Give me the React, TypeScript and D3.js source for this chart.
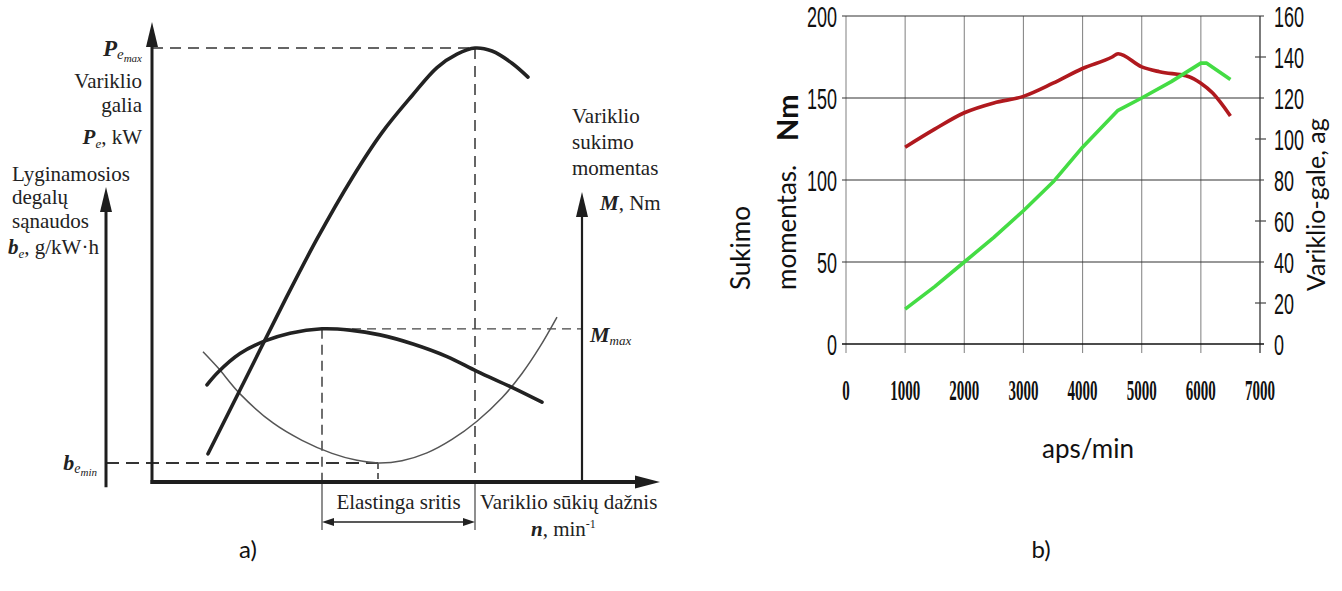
import React from "react";
import * as d3 from "d3";

// ---------- Panel a) schematic data (relative units) ----------
const powerN = [11.2, 18.9, 26.6, 33, 40, 46, 52, 57, 61, 64.6, 68, 72, 75.2];
const powerP = [6.5, 24.2, 41.9, 56, 70, 80.5, 89, 95.5, 98.6, 100, 99.3, 96.5, 93.3];
const torqueN = [11, 13.2, 17.6, 22.6, 27.6, 34, 39.6, 45.6, 52.2, 59, 65, 72.2, 78];
const torqueM = [22.4, 25.3, 29.6, 32.5, 34.3, 35.3, 35, 33.9, 31.8, 28.9, 25.5, 21.7, 18.4];
const fuelN = [10.2, 13.2, 17.6, 24.2, 30, 36, 41, 45.2, 50, 55, 60, 65, 70, 74, 77.5, 81];
const fuelB = [30, 26.3, 20.3, 13.6, 9.6, 6.6, 5, 4.4, 4.9, 6.7, 9.8, 14, 19.4, 25, 31, 38];
// key values
const nMmax = 34;
const nPmax = 64.6;
const nBmin = 45.2;
const Mmax = 35.3;
const Pmax = 100;
const Bmin = 4.4;

// ---------- Panel b) data ----------
const rpmTorque = [1000, 1500, 2000, 2500, 3000, 3500, 4000, 4500, 4600, 5000, 5300, 5800, 6000, 6200, 6500];
const torqueNm = [120, 131, 141, 147, 151, 159, 168, 175, 177, 169, 166, 163, 159, 153, 139];
const rpmPower = [1000, 1500, 2000, 2500, 3000, 3500, 4000, 4600, 5000, 5500, 6000, 6100, 6500];
const powerHp = [17, 28, 40, 52, 65, 79, 96, 114, 120, 128, 137, 137, 129];
const xTicks = [0, 1000, 2000, 3000, 4000, 5000, 6000, 7000];
const leftTicks = [0, 50, 100, 150, 200];
const rightTicks = [0, 20, 40, 60, 80, 100, 120, 140, 160];

const serif = "'Liberation Serif', 'DejaVu Serif', serif";
const sans = "Lato, 'Open Sans', sans-serif";

export default function App() {
  // panel a scales
  const xA = d3.scaleLinear().domain([0, 100]).range([152, 652]);
  const yA = d3.scaleLinear().domain([0, 100]).range([482, 48]);
  const lineA = (ns: number[], vs: number[]) =>
    d3.line<number>().x((_, i) => xA(ns[i])).y((_, i) => yA(vs[i])).curve(d3.curveCatmullRom.alpha(0.5))(ns);

  // panel b scales
  const xB = d3.scaleLinear().domain([0, 7000]).range([846, 1260]);
  const yL = d3.scaleLinear().domain([0, 200]).range([344, 16]);
  const yR = d3.scaleLinear().domain([0, 160]).range([344, 16]);
  const redPath = d3.line<number>().x((_, i) => xB(rpmTorque[i])).y((_, i) => yL(torqueNm[i])).curve(d3.curveMonotoneX)(rpmTorque);
  const greenPath = d3.line<number>().x((_, i) => xB(rpmPower[i])).y((_, i) => yR(powerHp[i])).curve(d3.curveLinear)(rpmPower);

  const ink = "#1e1e1e";
  const xAxisEnd = 101.6;
  const yAxisTop = yA.invert(22);

  return (
    <svg width={1342} height={591} style={{ position: "absolute", left: 0, top: 0, background: "#fff" }}>
      <rect width={1342} height={591} fill="#fff" />
      {/* ================= Panel a ================= */}
      <g>
        {/* dashed reference lines */}
        <line x1={xA(0)} x2={xA(nPmax)} y1={yA(Pmax)} y2={yA(Pmax)} stroke="#333" strokeWidth={1.6} strokeDasharray="11,7" />
        <line x1={xA(nPmax)} x2={xA(nPmax)} y1={yA(Pmax)} y2={yA(0)} stroke="#333" strokeWidth={1.5} strokeDasharray="11,7" />
        <line x1={xA(nMmax)} x2={xA(nMmax)} y1={yA(Mmax)} y2={yA(0)} stroke="#333" strokeWidth={1.4} strokeDasharray="10,6" />
        <line x1={xA(nMmax)} x2={xA(86)} y1={yA(Mmax)} y2={yA(Mmax)} stroke="#444" strokeWidth={1.3} strokeDasharray="9,6" />
        <line x1={xA(-9.2)} x2={xA(nBmin)} y1={yA(Bmin)} y2={yA(Bmin)} stroke="#333" strokeWidth={2} strokeDasharray="13,7" />
        <line x1={xA(nBmin)} x2={xA(nBmin)} y1={yA(Bmin)} y2={yA(0)} stroke="#333" strokeWidth={1.5} strokeDasharray="6,4" />
        {/* lines below axis */}
        <line x1={xA(nMmax)} x2={xA(nMmax)} y1={yA(0)} y2={530} stroke="#444" strokeWidth={1.2} />
        <line x1={xA(nPmax)} x2={xA(nPmax)} y1={yA(0)} y2={530} stroke="#444" strokeWidth={1.2} />
        {/* double arrow */}
        <line x1={xA(nMmax) + 6} x2={xA(nPmax) - 6} y1={522} y2={522} stroke="#222" strokeWidth={1.5} />
        <path d={`M${xA(nMmax)},522 l12,-4 l0,8 z`} fill="#222" />
        <path d={`M${xA(nPmax)},522 l-12,-4 l0,8 z`} fill="#222" />

        {/* axes */}
        <line x1={xA(0)} x2={xA(0)} y1={yA(0) + 2} y2={yA(yAxisTop) + 20} stroke={ink} strokeWidth={3} />
        <path d={`M${xA(0)},${yA(yAxisTop)} l-6,25 l12,0 z`} fill={ink} />
        <line x1={xA(0) - 1.5} x2={xA(xAxisEnd) - 18} y1={yA(0)} y2={yA(0)} stroke={ink} strokeWidth={4} />
        <path d={`M${xA(xAxisEnd)},${yA(0)} l-25,-6.5 l0,13 z`} fill={ink} />
        <line x1={xA(-9.2)} x2={xA(-9.2)} y1={yA(-1.2)} y2={yA(68) + 20} stroke={ink} strokeWidth={3} />
        <path d={`M${xA(-9.2)},${yA(68)} l-6,25 l12,0 z`} fill={ink} />
        <line x1={xA(86)} x2={xA(86)} y1={yA(0)} y2={yA(66.8) + 20} stroke={ink} strokeWidth={2.2} />
        <path d={`M${xA(86)},${yA(66.8)} l-6,25 l12,0 z`} fill={ink} />

        {/* curves */}
        <path d={lineA(fuelN, fuelB) || ""} fill="none" stroke="#555" strokeWidth={1.5} />
        <path d={lineA(torqueN, torqueM) || ""} fill="none" stroke="#222" strokeWidth={3.6} strokeLinecap="round" />
        <path d={lineA(powerN, powerP) || ""} fill="none" stroke="#222" strokeWidth={3.6} strokeLinecap="round" />

        {/* texts */}
        <g fontFamily={serif} fontSize={21} fill="#222">
          <text x={142} y={56} textAnchor="end">
            <tspan fontWeight="bold" fontStyle="italic" fontSize={23}>P</tspan>
            <tspan fontStyle="italic" fontSize={15} dy={3}>e</tspan>
            <tspan fontStyle="italic" fontSize={11} dy={3}>max</tspan>
          </text>
          <text x={142} y={88} textAnchor="end">Variklio</text>
          <text x={142} y={112} textAnchor="end">galia</text>
          <text x={142} y={144} textAnchor="end">
            <tspan fontWeight="bold" fontStyle="italic">P</tspan>
            <tspan fontStyle="italic" fontSize={13} dy={4}>e</tspan>
            <tspan dy={-4}>, kW</tspan>
          </text>
          <text x={12} y={181}>Lyginamosios</text>
          <text x={12} y={204}>degalų</text>
          <text x={12} y={228}>sąnaudos</text>
          <text x={8} y={254}>
            <tspan fontWeight="bold" fontStyle="italic">b</tspan>
            <tspan fontStyle="italic" fontSize={13} dy={4}>e</tspan>
            <tspan dy={-4}>, g/kW·h</tspan>
          </text>
          <text x={97} y={470} textAnchor="end">
            <tspan fontWeight="bold" fontStyle="italic" fontSize={22}>b</tspan>
            <tspan fontStyle="italic" fontSize={14} dy={3}>e</tspan>
            <tspan fontStyle="italic" fontSize={11} dy={3}>min</tspan>
          </text>
          <text x={572} y={123}>Variklio</text>
          <text x={572} y={149}>sukimo</text>
          <text x={572} y={175}>momentas</text>
          <text x={600} y={210}>
            <tspan fontWeight="bold" fontStyle="italic">M</tspan>
            <tspan>, Nm</tspan>
          </text>
          <text x={590} y={342}>
            <tspan fontWeight="bold" fontStyle="italic" fontSize={22}>M</tspan>
            <tspan fontStyle="italic" fontSize={13} dy={3}>max</tspan>
          </text>
          <text x={(xA(nMmax) + xA(nPmax)) / 2} y={509} textAnchor="middle">Elastinga sritis</text>
          <text x={480} y={509}>Variklio sūkių dažnis</text>
          <text x={531} y={536}>
            <tspan fontWeight="bold" fontStyle="italic">n</tspan>
            <tspan>, min</tspan>
            <tspan fontSize={12} dy={-8}>-1</tspan>
          </text>
        </g>
        <text x={248} y={558} textAnchor="middle" fontFamily={sans} fontSize={24} fill="#111">a)</text>
      </g>

      {/* ================= Panel b ================= */}
      <g>
        {/* vertical grid */}
        {xTicks.map((t) => (
          <line key={"v" + t} x1={xB(t)} x2={xB(t)} y1={yL(200)} y2={353}
            stroke={t === 7000 ? "#444" : "#8a8a8a"} strokeWidth={t === 7000 ? 1.4 : 1.1} />
        ))}
        {/* horizontal grid */}
        {leftTicks.map((t) => (
          <line key={"h" + t} x1={842} x2={1264} y1={yL(t)} y2={yL(t)}
            stroke={t === 0 ? "#111" : "#333"} strokeWidth={t === 0 ? 1.6 : 1.2} />
        ))}
        {/* right minor ticks */}
        {rightTicks.filter((t) => t % 40 !== 0).map((t) => (
          <line key={"r" + t} x1={1255} x2={1266} y1={yR(t)} y2={yR(t)} stroke="#444" strokeWidth={1.2} />
        ))}

        <path d={redPath || ""} fill="none" stroke="#b0191e" strokeWidth={3.6} strokeLinejoin="round" />
        <path d={greenPath || ""} fill="none" stroke="#44dc44" strokeWidth={3.6} strokeLinejoin="round" />

        {/* left tick labels */}
        {leftTicks.map((t) => (
          <text key={"lt" + t} transform={`translate(837,${yL(t) + 11}) scale(0.6,1)`} textAnchor="end"
            fontFamily="'Liberation Sans', Arial, sans-serif" fontSize={30} fill="#111">{t}</text>
        ))}
        {/* right tick labels */}
        {rightTicks.map((t) => (
          <text key={"rt" + t} transform={`translate(1274,${yR(t) + 11}) scale(0.6,1)`}
            fontFamily="'Liberation Sans', Arial, sans-serif" fontSize={30} fill="#111">{t}</text>
        ))}
        {/* x tick labels */}
        {xTicks.map((t) => (
          <text key={"xt" + t} transform={`translate(${xB(t)},400) scale(0.5,1)`} textAnchor="middle"
            fontFamily={serif} fontWeight="bold" fontSize={30} fill="#111">{t}</text>
        ))}

        {/* titles */}
        <g fontFamily={sans} fill="#111">
          <text transform="translate(750,290) rotate(-90)" fontSize={26}>Sukimo</text>
          <text transform="translate(796,290) rotate(-90)" fontSize={26}>momentas.</text>
          <text transform="translate(798,141) rotate(-90)" fontSize={29} fontWeight="bold">Nm</text>
          <text transform="translate(1325,291) rotate(-90)" fontSize={25}>Variklio-gale, ag</text>
          <text x={1088} y={458} textAnchor="middle" fontSize={26}>aps/min</text>
          <text x={1041} y={558} textAnchor="middle" fontSize={24}>b)</text>
        </g>
      </g>
    </svg>
  );
}
